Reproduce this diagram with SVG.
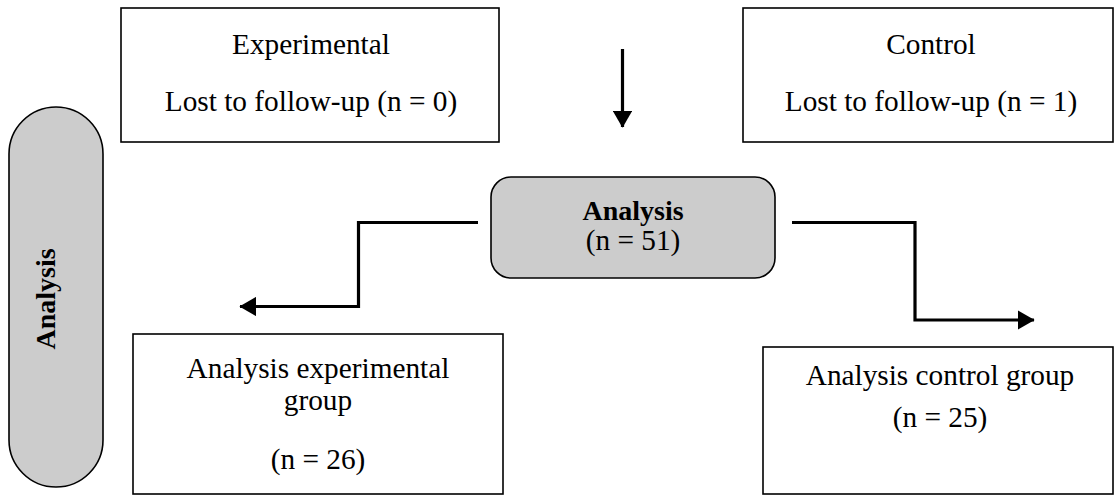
<svg xmlns="http://www.w3.org/2000/svg" width="1116" height="504" viewBox="0 0 1116 504">
<defs>
<style>
.box{fill:#ffffff;stroke:#000000;stroke-width:1.6}
.grey{fill:#cccccc;stroke:#000000;stroke-width:1.6}
.t{font-family:"Liberation Serif","Times New Roman",serif;font-size:29.3px;fill:#000000;text-anchor:middle}
.b{font-weight:bold;font-size:28px}
.ln{fill:none;stroke:#000000;stroke-width:3.2}
</style>
<marker id="ah" markerWidth="6" markerHeight="6" refX="5" refY="3" orient="auto" markerUnits="strokeWidth">
<path d="M0,0 L5.2,3 L0,6 Z" fill="#000000"/>
</marker>
</defs>
<rect width="1116" height="504" fill="#ffffff"/>
<g id="pill">
<rect class="grey" x="9" y="107" width="94" height="380" rx="47" ry="47"/>
<text class="t b" transform="translate(55,299) rotate(-90)">Analysis</text>
</g>
<g id="exp-lost">
<rect class="box" x="121" y="8" width="378" height="134"/>
<text class="t" x="311" y="54">Experimental</text>
<text class="t" x="311" y="111">Lost to follow-up (n = 0)</text>
</g>
<g id="ctrl-lost">
<rect class="box" x="743" y="8" width="370" height="134"/>
<text class="t" x="931" y="54">Control</text>
<text class="t" x="931" y="111">Lost to follow-up (n = 1)</text>
</g>
<g id="analysis">
<rect class="grey" x="491" y="177" width="284" height="101" rx="20" ry="20"/>
<text class="t b" x="633" y="220">Analysis</text>
<text class="t" x="633" y="250">(n = 51)</text>
</g>
<g id="exp-analysis">
<rect class="box" x="133" y="334" width="370" height="160"/>
<text class="t" x="318" y="378">Analysis experimental</text>
<text class="t" x="318" y="410">group</text>
<text class="t" x="318" y="469">(n = 26)</text>
</g>
<g id="ctrl-analysis">
<rect class="box" x="763" y="347" width="350" height="147"/>
<text class="t" x="940" y="385">Analysis control group</text>
<text class="t" x="940" y="427">(n = 25)</text>
</g>
<g id="connectors">
<path class="ln" d="M622.5,49 V127" marker-end="url(#ah)"/>
<path class="ln" d="M478,222.5 H358.5 V306.5 H240" marker-end="url(#ah)"/>
<path class="ln" d="M792,222.5 H915 V320 H1034" marker-end="url(#ah)"/>
</g>
</svg>
